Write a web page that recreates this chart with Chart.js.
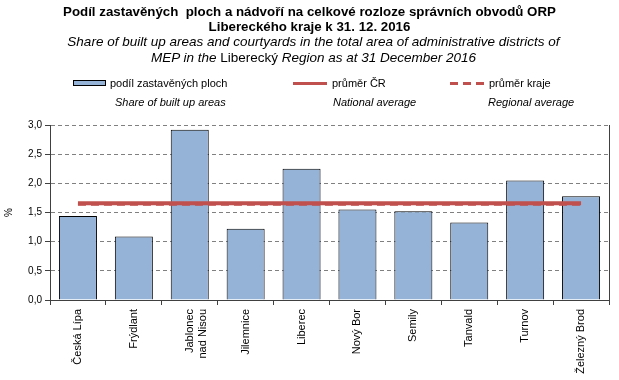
<!DOCTYPE html>
<html>
<head>
<meta charset="utf-8">
<script src="https://cdn.jsdelivr.net/npm/chart.js@4"></script>
<style>
  body { margin: 0; background: #fff; font-family: "Liberation Sans", Arial, sans-serif; }
  #wrap { position: relative; width: 619px; height: 380px; }
  #chart { position: absolute; left: 0; top: 0; }
  .t { position: absolute; left: 0; width: 619px; text-align: center; white-space: nowrap; color: #000; line-height: 15px; }
  .b { font-weight: bold; font-size: 13.3px; }
  .i { font-style: italic; font-size: 13.5px; }
  .lg { position: absolute; font-size: 11px; white-space: nowrap; line-height: 12px; }
  .lgi { position: absolute; font-size: 11px; font-style: italic; white-space: nowrap; line-height: 12px; }
</style>
</head>
<body>
<div id="wrap">
  <canvas id="chart" width="619" height="380"></canvas>
  <div class="t b" style="top:4px">Podíl zastavěných&nbsp; ploch a nádvoří na celkové rozloze správních obvodů ORP</div>
  <div class="t b" style="top:19px">Libereckého kraje k 31. 12. 2016</div>
  <div class="t i" style="top:34px;left:4px">Share of built up areas and courtyards in the total area of administrative districts of</div>
  <div class="t i" style="top:50px;left:4px">MEP in the <span style="font-style:normal">Liberecký</span> Region as at 31 December 2016</div>

  <div style="position:absolute;left:73px;top:80px;width:31px;height:4px;background:#95B3D7;border:1px solid #000"></div>
  <div class="lg" style="left:110px;top:77px">podíl zastavěných ploch</div>
  <div style="position:absolute;left:293px;top:82px;width:34px;height:3px;background:#C0504D"></div>
  <div class="lg" style="left:332px;top:77px">průměr ČR</div>
  <div style="position:absolute;left:450px;top:82px;width:35px;height:3px;background:repeating-linear-gradient(90deg,#C0504D 0 8px,transparent 8px 13px)"></div>
  <div class="lg" style="left:489px;top:77px">průměr kraje</div>
  <div class="lgi" style="left:115px;top:96px">Share of built up areas</div>
  <div class="lgi" style="left:333px;top:96px">National average</div>
  <div class="lgi" style="left:488px;top:96px">Regional average</div>
</div>
<script>
const categories = ['Česká Lípa', 'Frýdlant', ['Jablonec', 'nad Nisou'], 'Jilemnice', 'Liberec',
  'Nový Bor', 'Semily', 'Tanvald', 'Turnov', 'Železný Brod'];
const shareBuilt = [1.44, 1.09, 2.92, 1.22, 2.25, 1.55, 1.52, 1.33, 2.05, 1.78];
const nationalAvg = [1.66, 1.66, 1.66, 1.66, 1.66, 1.66, 1.66, 1.66, 1.66, 1.66];
const regionalAvg = [1.64, 1.64, 1.64, 1.64, 1.64, 1.64, 1.64, 1.64, 1.64, 1.64];
const yTicks = [0, 0.5, 1, 1.5, 2, 2.5, 3];

// solid frame line on the right side of the plot
const rightBorder = {
  id: 'rightBorder',
  afterDraw(chart) {
    const { ctx, chartArea: a } = chart;
    ctx.save();
    ctx.strokeStyle = '#404040';
    ctx.lineWidth = 1;
    ctx.beginPath();
    ctx.moveTo(a.right + 0.5, a.top);
    ctx.lineTo(a.right + 0.5, a.bottom);
    ctx.stroke();
    ctx.restore();
  }
};

new Chart(document.getElementById('chart'), {
  type: 'bar',
  data: {
    labels: categories,
    datasets: [
      { type: 'line', label: 'průměr kraje', data: regionalAvg, borderColor: '#C0504D', borderWidth: 3,
        borderDash: [8, 5], pointRadius: 0, order: 0 },
      { type: 'line', label: 'průměr ČR', data: nationalAvg, borderColor: '#C0504D', borderWidth: 4,
        pointRadius: 0, order: 1 },
      { label: 'podíl zastavěných ploch', data: shareBuilt, backgroundColor: '#95B3D7',
        borderColor: '#000', borderWidth: 1, barPercentage: 0.68, categoryPercentage: 1, order: 2 }
    ]
  },
  options: {
    responsive: false,
    animation: false,
    layout: { padding: { top: 125, right: 10, left: 3, bottom: 0 } },
    plugins: { legend: { display: false }, title: { display: false }, tooltip: { enabled: false } },
    scales: {
      x: {
        offset: true,
        grid: { display: true, drawOnChartArea: false, offset: true, color: '#404040', tickLength: 5 },
        border: { color: '#404040' },
        ticks: { color: '#000', font: { family: 'Liberation Sans', size: 11 }, minRotation: 90, maxRotation: 90, padding: 4 },
        afterFit: s => { s.height = 80; }
      },
      y: {
        min: 0, max: 3,
        afterBuildTicks: s => { s.ticks = yTicks.map(v => ({ value: v })); },
        grid: { color: '#808080', tickLength: 5, tickColor: '#404040' },
        border: { color: '#404040', dash: [4, 3] },
        ticks: { color: '#000', font: { family: 'Liberation Sans', size: 10 }, padding: 3,
          callback: v => v.toFixed(1).replace('.', ',') },
        title: { display: true, text: '%', color: '#000', font: { family: 'Liberation Sans', size: 10 }, padding: 0 },
        afterFit: s => { s.width = 47; }
      }
    }
  },
  plugins: [rightBorder]
});
</script>
</body>
</html>
